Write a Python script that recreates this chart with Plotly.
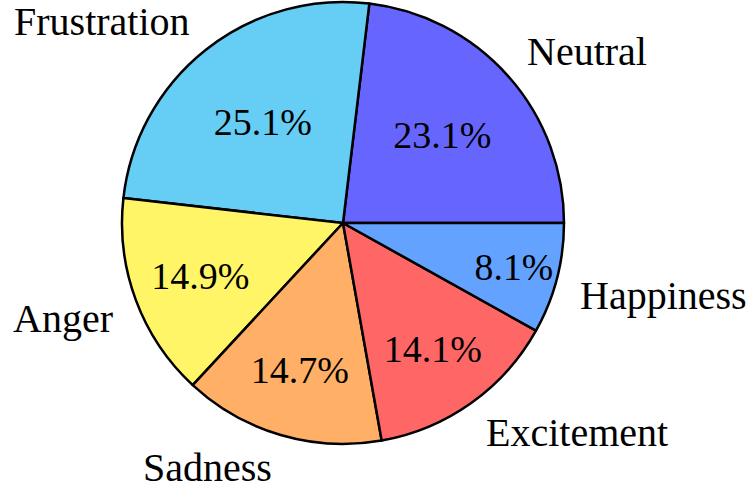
import numpy as np
import plotly.graph_objects as go

labels = ["Neutral", "Frustration", "Anger", "Sadness", "Excitement", "Happiness"]
values = [23.1, 25.1, 14.9, 14.7, 14.1, 8.1]
colors = ["#6666ff", "#66cdf5", "#fff566", "#ffb066", "#ff6666", "#64a2ff"]

font_name = "Liberation Serif"
W, H = 746, 481

# pie centre and radius in pixels
cx, cy, R = 343, 223, 221
dom = {"x": [(cx - R) / W, (cx + R) / W], "y": [1 - (cy + R) / H, 1 - (cy - R) / H]}

# plotly draws counterclockwise slices ending at the rotation angle,
# so turn it back by the first slice to make Neutral start at 3 o'clock
total = sum(values)
start = 90 - 360 * values[0] / total

fig = go.Figure()

fig.add_trace(go.Pie(labels = labels,
                     values = values,
                     sort = False,
                     direction = "counterclockwise",
                     rotation = start,
                     marker_colors = colors,
                     marker_line_color = "black",
                     marker_line_width = 2.5,
                     texttemplate = "%{value:.1f}%",
                     textposition = "inside",
                     insidetextorientation = "horizontal",
                     textfont = dict(family = font_name, size = 38, color = "black"),
                     domain = dom,
                     showlegend = False,
                     hoverinfo = "label+value"))

# category names at 1.1 radius, like matplotlib's labeldistance
cum = np.cumsum(values) - np.array(values) / 2
for name, c in zip(labels, cum):
    theta = 2 * np.pi * c / total
    upper = np.sin(theta) > 0
    x = (cx + 1.1 * R * np.cos(theta)) / W
    y = 1 - (cy - 1.1 * R * np.sin(theta)) / H
    fig.add_annotation(x = x,
                       y = y,
                       xref = "paper",
                       yref = "paper",
                       text = name,
                       showarrow = False,
                       xanchor = "left" if np.cos(theta) > 0 else "right",
                       yanchor = "bottom" if upper else "top",
                       yshift = -14 if upper else 13,
                       font = dict(family = font_name, size = 40, color = "black"))

fig.update_layout(width = W,
                  height = H,
                  margin = dict(l = 0, r = 0, t = 0, b = 0),
                  paper_bgcolor = "white",
                  plot_bgcolor = "white")

fig.write_html("out.html",
               config = {"displayModeBar": False},
               post_script = "document.body.style.margin = '0';")
